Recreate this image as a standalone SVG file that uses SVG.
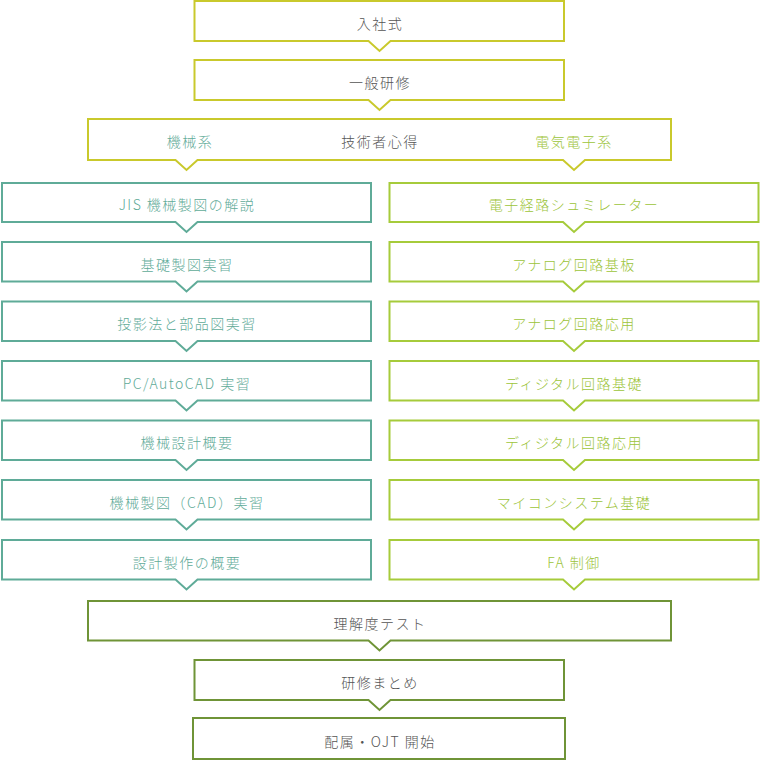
<svg xmlns="http://www.w3.org/2000/svg" width="760" height="761" viewBox="0 0 760 761">
<style>
.b{fill:#fff;stroke-width:2}
.y{stroke:#c9c92c}
.t{stroke:#5fab98}
.g{stroke:#a6cb3b}
.d{stroke:#6f9437}
text{font-family:"Noto Sans CJK JP","Noto Sans",sans-serif;font-size:14px;font-weight:300;letter-spacing:1.5px;text-anchor:middle;dominant-baseline:central;fill:#555}
.tt{fill:#5fab98}
.gt{fill:#9cc43a}
</style>
<g id="connectors"></g>
<g id="n1"><path class="b y" d="M194.5,1H564V41H390.5L379.5,51L368.5,41H194.5Z"/><text x="380" y="22.5">入社式</text></g>
<g id="n2"><path class="b y" d="M194.5,60H564V100H390.5L379.5,110L368.5,100H194.5Z"/><text x="380" y="81.5">一般研修</text></g>
<g id="n3"><path class="b y" d="M88,119H671V160H585L574,170L563,160H197.5L186.5,170L175.5,160H88Z"/><text x="190" y="141" class="tt">機械系</text><text x="380" y="141">技術者心得</text><text x="574" y="141" class="gt">電気電子系</text></g>
<g id="l1"><path class="b t" d="M2,183H371V222H197.5L186.5,232L175.5,222H2Z"/><text x="187" y="204" class="tt">JIS 機械製図の解説</text></g>
<g id="l2"><path class="b t" d="M2,242H371V281.5H197.5L186.5,291.5L175.5,281.5H2Z"/><text x="187" y="263.5" class="tt">基礎製図実習</text></g>
<g id="l3"><path class="b t" d="M2,301.5H371V341H197.5L186.5,351L175.5,341H2Z"/><text x="187" y="323" class="tt">投影法と部品図実習</text></g>
<g id="l4"><path class="b t" d="M2,361H371V400.5H197.5L186.5,410.5L175.5,400.5H2Z"/><text x="187" y="382.5" class="tt">PC/AutoCAD 実習</text></g>
<g id="l5"><path class="b t" d="M2,420.5H371V460H197.5L186.5,470L175.5,460H2Z"/><text x="187" y="442" class="tt">機械設計概要</text></g>
<g id="l6"><path class="b t" d="M2,480H371V519.5H197.5L186.5,529.5L175.5,519.5H2Z"/><text x="187" y="501.5" class="tt">機械製図（CAD）実習</text></g>
<g id="l7"><path class="b t" d="M2,540H371V579.5H197.5L186.5,589.5L175.5,579.5H2Z"/><text x="187" y="561.5" class="tt">設計製作の概要</text></g>
<g id="r1"><path class="b g" d="M389.5,183H758.5V222H585L574,232L563,222H389.5Z"/><text x="574" y="204" class="gt">電子経路シュミレーター</text></g>
<g id="r2"><path class="b g" d="M389.5,242H758.5V281.5H585L574,291.5L563,281.5H389.5Z"/><text x="574" y="263.5" class="gt">アナログ回路基板</text></g>
<g id="r3"><path class="b g" d="M389.5,301.5H758.5V341H585L574,351L563,341H389.5Z"/><text x="574" y="323" class="gt">アナログ回路応用</text></g>
<g id="r4"><path class="b g" d="M389.5,361H758.5V400.5H585L574,410.5L563,400.5H389.5Z"/><text x="574" y="382.5" class="gt">ディジタル回路基礎</text></g>
<g id="r5"><path class="b g" d="M389.5,420.5H758.5V460H585L574,470L563,460H389.5Z"/><text x="574" y="442" class="gt">ディジタル回路応用</text></g>
<g id="r6"><path class="b g" d="M389.5,480H758.5V519.5H585L574,529.5L563,519.5H389.5Z"/><text x="574" y="501.5" class="gt">マイコンシステム基礎</text></g>
<g id="r7"><path class="b g" d="M389.5,540H758.5V579.5H585L574,589.5L563,579.5H389.5Z"/><text x="574" y="561.5" class="gt">FA 制御</text></g>
<g id="n4"><path class="b d" d="M88,601H671V640.5H390.5L379.5,650.5L368.5,640.5H88Z"/><text x="380" y="622.5">理解度テスト</text></g>
<g id="n5"><path class="b d" d="M194.5,660H564V700H390.5L379.5,710L368.5,700H194.5Z"/><text x="380" y="681.5">研修まとめ</text></g>
<g id="n6"><path class="b d" d="M193,718H565V759H193Z"/><text x="380" y="741">配属・OJT 開始</text></g>
</svg>
